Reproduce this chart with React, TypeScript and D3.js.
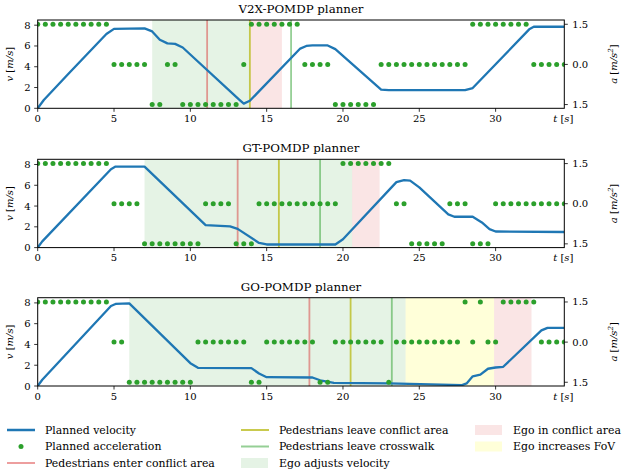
import React from "react";
import * as d3 from "d3";

// ---------- data ----------
const P = 1.5, Z = 0, N = -1.5;
const accTimes: number[] = Array.from({ length: 70 }, (_, i) => i * 0.5);

const titles = ["V2X-POMDP planner", "GT-POMDP planner", "GO-POMDP planner"];

const v2xVelT = [0, 0.4, 2, 4.5, 5, 7, 7.5, 8, 8.5, 9, 9.5, 13.2, 13.5, 13.9, 17.2, 17.6, 18, 19, 19.5, 22.5, 23, 28, 28.5, 32.2, 32.5, 34.5];
const v2xVel = [0, 0.8, 3.3, 7.15, 7.65, 7.7, 7.4, 6.6, 6.25, 6.2, 5.85, 0.84, 0.45, 0.72, 5.75, 6.0, 6.05, 6.05, 5.7, 1.8, 1.75, 1.75, 1.95, 7.6, 7.85, 7.85];
const v2xAcc = [
  P, P, P, P, P, P, P, P, P, P,
  Z, Z, Z, Z, Z,
  N, N,
  Z, Z,
  N, N, N, N, N, N, N, N,
  Z,
  P, P, P, P, P, P, P,
  Z, Z, Z, Z,
  N, N, N, N, N, N,
  Z, Z, Z, Z, Z, Z, Z, Z, Z, Z, Z, Z,
  P, P, P, P, P, P, P, P,
  Z, Z, Z, Z, Z,
];

const gtVelT = [0, 0.3, 4.8, 5.1, 7, 11, 12.6, 13.1, 14.5, 15, 19.5, 20, 23.5, 24, 24.4, 25, 26.9, 27.3, 28.5, 29.1, 29.6, 30, 34.5];
const gtVel = [0, 0.6, 7.55, 7.8, 7.8, 2.16, 2.05, 1.8, 0.45, 0.3, 0.3, 0.8, 6.3, 6.5, 6.45, 5.8, 3.2, 2.97, 2.97, 2.42, 1.78, 1.55, 1.5];
const gtAcc = [
  P, P, P, P, P, P, P, P, P, P,
  Z, Z, Z, Z,
  N, N, N, N, N, N, N, N,
  Z, Z, Z, Z,
  N, N, N,
  Z, Z, Z, Z, Z, Z, Z, Z, Z, Z, Z,
  P, P, P, P, P, P, P,
  Z, Z,
  N, N, N, N, N,
  Z, Z, Z,
  N, N, N,
  Z, Z, Z, Z, Z, Z, Z, Z, Z, Z,
];

const goVelT = [0, 0.3, 4.8, 5.1, 6, 10, 10.5, 14, 14.5, 15, 18, 18.5, 19.4, 23, 27.8, 28.1, 28.5, 29, 29.5, 30, 30.5, 33, 33.4, 34.5];
const goVel = [0, 0.6, 7.7, 7.9, 7.95, 2.2, 1.75, 1.72, 1.2, 0.85, 0.82, 0.55, 0.3, 0.25, 0.08, 0.25, 0.93, 1.09, 1.66, 1.78, 1.85, 5.35, 5.6, 5.6];
const goAcc = [
  P, P, P, P, P, P, P, P, P, P,
  Z, Z,
  N, N, N, N, N, N, N, N, N,
  Z, Z, Z, Z, Z, Z, Z,
  N, N,
  Z, Z, Z, Z, Z, Z, Z,
  N, N,
  Z, Z, Z, Z, Z, Z, Z,
  N,
  Z, Z, Z, Z, Z, Z, Z, Z, Z,
  P,
  Z,
  P,
  Z, Z,
  P, P, P, P, P,
  Z, Z, Z, Z,
];

// event times
const enterConflict = [11.1, 13.1, 17.8];
const leaveConflict = [13.9, 15.8, 20.5];
const leaveCrosswalk = [16.6, 18.5, 23.2];
const adjustSpans: [number, number][] = [[7.5, 13.9], [7.0, 20.6], [6.0, 24.1]];
const conflictSpans: [number, number][] = [[13.9, 16.0], [20.6, 22.4], [29.9, 32.35]];
const fovSpans: ([number, number] | null)[] = [null, null, [24.1, 29.9]];

const xTicks = [0, 5, 10, 15, 20, 25, 30];
const vTicks = [0, 2, 4, 6, 8];
const aTicks = [-1.5, 0, 1.5];

const panels = [
  { velT: v2xVelT, vel: v2xVel, acc: v2xAcc },
  { velT: gtVelT, vel: gtVel, acc: gtAcc },
  { velT: goVelT, vel: goVel, acc: goAcc },
];

// ---------- styles ----------
const W = 634, H = 475;
const X0 = 37.7, X1 = 564.3;
const TOPS = [20, 159.3, 297.7];
const PH = 88.3;
const FONT = "'DejaVu Serif', serif";
const BLUE = "#1f77b4";
const GREEN = "#2ca02c";
const RED_LINE = "rgba(214,39,40,0.45)";
const YEL_LINE = "rgba(188,189,34,0.8)";
const GRN_LINE = "rgba(44,160,44,0.5)";
const GRN_SPAN = "rgba(44,160,44,0.12)";
const RED_SPAN = "rgba(214,39,40,0.12)";
const YEL_SPAN = "rgba(255,255,0,0.15)";

const x = d3.scaleLinear().domain([0, 34.5]).range([X0, X1]);

function Panel({ idx }: { idx: number }) {
  const top = TOPS[idx];
  const bottom = top + PH;
  const pd = panels[idx];
  const yv = d3.scaleLinear().domain([0, 8.5]).range([bottom, top]);
  const ya = d3.scaleLinear().domain([-1.64, 1.66]).range([bottom, top]);
  const line = d3.line<number>().x((_, i) => x(pd.velT[i])).y((d) => yv(d));
  const clipId = `clip${idx}`;
  const fs = 10;
  const spans: { s: [number, number]; c: string }[] = [
    { s: adjustSpans[idx], c: GRN_SPAN },
  ];
  if (fovSpans[idx]) spans.push({ s: fovSpans[idx]!, c: YEL_SPAN });
  spans.push({ s: conflictSpans[idx], c: RED_SPAN });
  return (
    <g>
      <defs>
        <clipPath id={clipId}>
          <rect x={X0} y={top} width={X1 - X0} height={PH} />
        </clipPath>
      </defs>
      <text x={(X0 + X1) / 2} y={top - 7} textAnchor="middle" fontSize={11.8} fontFamily={FONT}>
        {titles[idx]}
      </text>
      <g clipPath={`url(#${clipId})`}>
        {spans.map((sp, i) => (
          <rect key={i} x={x(sp.s[0])} y={top} width={x(sp.s[1]) - x(sp.s[0])} height={PH} fill={sp.c} />
        ))}
        <line x1={x(enterConflict[idx])} x2={x(enterConflict[idx])} y1={top} y2={bottom} stroke={RED_LINE} strokeWidth={1.8} />
        <line x1={x(leaveConflict[idx])} x2={x(leaveConflict[idx])} y1={top} y2={bottom} stroke={YEL_LINE} strokeWidth={1.8} />
        <line x1={x(leaveCrosswalk[idx])} x2={x(leaveCrosswalk[idx])} y1={top} y2={bottom} stroke={GRN_LINE} strokeWidth={1.8} />
        <path d={line(pd.vel) || ""} fill="none" stroke={BLUE} strokeWidth={2.3} strokeLinejoin="round" />
        {pd.acc.map((a, i) => (
          <circle key={i} cx={x(accTimes[i])} cy={ya(a)} r={2.5} fill={GREEN} />
        ))}
      </g>
      <rect x={X0} y={top} width={X1 - X0} height={PH} fill="none" stroke="#000" strokeWidth={1} />
      {xTicks.map((t) => (
        <g key={t}>
          <line x1={x(t)} x2={x(t)} y1={bottom} y2={bottom + 3.5} stroke="#000" strokeWidth={0.8} />
          <text x={x(t)} y={bottom + 13.5} textAnchor="middle" fontSize={fs} fontFamily={FONT}>{t}</text>
        </g>
      ))}
      <text x={X1 - 1} y={bottom + 13.5} textAnchor="middle" fontSize={fs} fontFamily={FONT}>
        <tspan fontStyle="italic">t</tspan> [<tspan fontStyle="italic">s</tspan>]
      </text>
      {vTicks.map((t) => (
        <g key={t}>
          <line x1={X0 - 3.5} x2={X0} y1={yv(t)} y2={yv(t)} stroke="#000" strokeWidth={0.8} />
          <text x={X0 - 7} y={yv(t) + 3.5} textAnchor="end" fontSize={fs} fontFamily={FONT}>{t}</text>
        </g>
      ))}
      {aTicks.map((t) => (
        <g key={t}>
          <line x1={X1} x2={X1 + 3.5} y1={ya(t)} y2={ya(t)} stroke="#000" strokeWidth={0.8} />
          <text x={X1 + 8} y={ya(t) + 3.5} textAnchor="start" fontSize={fs} fontFamily={FONT}>{Math.abs(t).toFixed(1)}</text>
        </g>
      ))}
      <text transform={`translate(13,${(top + bottom) / 2}) rotate(-90)`} textAnchor="middle" fontSize={fs} fontFamily={FONT}>
        <tspan fontStyle="italic">v</tspan> [<tspan fontStyle="italic">m/s</tspan>]
      </text>
      <text transform={`translate(617,${(top + bottom) / 2}) rotate(-90)`} textAnchor="middle" fontSize={fs} fontFamily={FONT}>
        <tspan fontStyle="italic">a</tspan> [<tspan fontStyle="italic">m/s</tspan>
        <tspan fontStyle="italic" fontSize={7} dy={-4}>2</tspan>
        <tspan dy={4}>]</tspan>
      </text>
    </g>
  );
}

const legendItems = [
  { label: "Planned velocity", kind: "line", color: BLUE, w: 2.5, col: 0, row: 0 },
  { label: "Planned acceleration", kind: "dot", color: GREEN, w: 0, col: 0, row: 1 },
  { label: "Pedestrians enter conflict area", kind: "line", color: RED_LINE, w: 2, col: 0, row: 2 },
  { label: "Pedestrians leave conflict area", kind: "line", color: YEL_LINE, w: 2, col: 1, row: 0 },
  { label: "Pedestrians leave crosswalk", kind: "line", color: GRN_LINE, w: 2, col: 1, row: 1 },
  { label: "Ego adjusts velocity", kind: "patch", color: GRN_SPAN, w: 0, col: 1, row: 2 },
  { label: "Ego in conflict area", kind: "patch", color: RED_SPAN, w: 0, col: 2, row: 0 },
  { label: "Ego increases FoV", kind: "patch", color: YEL_SPAN, w: 0, col: 2, row: 1 },
];
const colX = [7, 241, 475];
const rowY = [430, 446.5, 463];

function Legend() {
  return (
    <g>
      {legendItems.map((it, i) => {
        const hx = colX[it.col];
        const y = rowY[it.row];
        return (
          <g key={i}>
            {it.kind === "line" && <line x1={hx} x2={hx + 28} y1={y} y2={y} stroke={it.color} strokeWidth={it.w} />}
            {it.kind === "dot" && <circle cx={hx + 14} cy={y} r={2.5} fill={it.color} />}
            {it.kind === "patch" && <rect x={hx} y={y - 5} width={27} height={10} fill={it.color} />}
            <text x={hx + 38} y={y + 3.7} fontSize={10.9} fontFamily={FONT}>{it.label}</text>
          </g>
        );
      })}
    </g>
  );
}

export default function App() {
  return (
    <svg width={W} height={H} style={{ position: "absolute", left: 0, top: 0, background: "#fff" }}>
      <rect width={W} height={H} fill="#fff" />
      {[0, 1, 2].map((i) => <Panel key={i} idx={i} />)}
      <Legend />
    </svg>
  );
}
